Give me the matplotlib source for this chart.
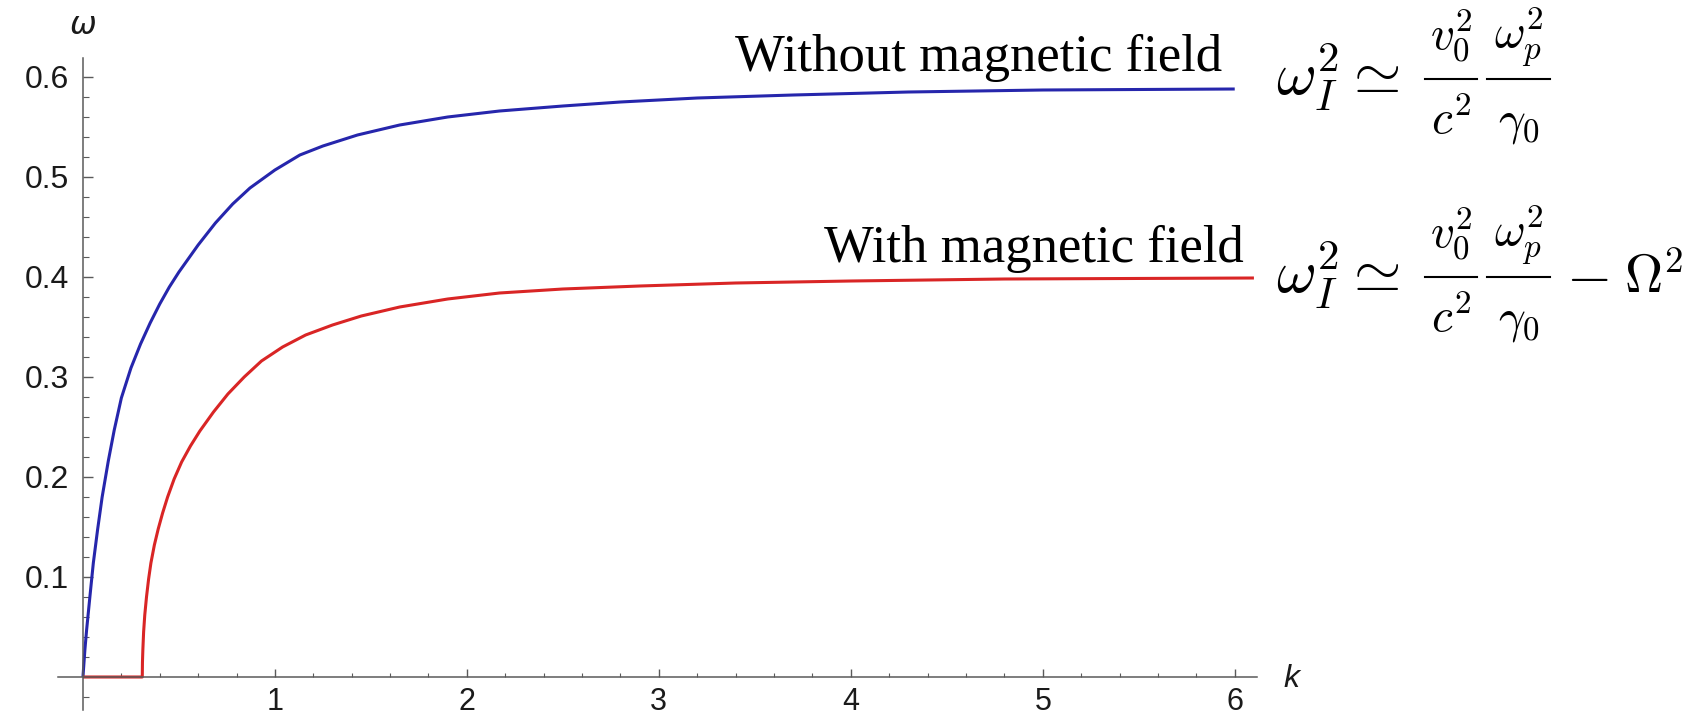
import numpy as np
import matplotlib
matplotlib.use("Agg")
import matplotlib.pyplot as plt
from matplotlib.lines import Line2D
from matplotlib.ticker import MultipleLocator, FixedLocator

plt.rcParams['mathtext.fontset'] = 'cm'

# values
k_without = [0, 0.01, 0.019, 0.036, 0.054, 0.076, 0.10, 0.132, 0.163, 0.20, 0.25, 0.30, 0.35,
             0.40, 0.45, 0.50, 0.60, 0.69, 0.78, 0.87, 1.0, 1.13, 1.25, 1.43, 1.65, 1.9,
             2.17, 2.5, 2.8, 3.2, 3.7, 4.3, 5.0, 6.0]
w_without = [0, 0.027, 0.047, 0.080, 0.114, 0.147, 0.180, 0.216, 0.247, 0.279, 0.309, 0.333, 0.354,
             0.373, 0.390, 0.405, 0.432, 0.454, 0.473, 0.489, 0.507, 0.522, 0.531, 0.542, 0.552, 0.560,
             0.566, 0.571, 0.575, 0.579, 0.582, 0.585, 0.587, 0.588]

k_with = [0, 0.309, 0.310, 0.312, 0.316, 0.322, 0.331, 0.342, 0.354, 0.372, 0.392, 0.415, 0.441,
          0.475, 0.514, 0.56, 0.609, 0.68, 0.755, 0.84, 0.93, 1.04, 1.16, 1.30, 1.45, 1.65,
          1.9, 2.17, 2.5, 2.9, 3.4, 4.0, 4.8, 6.1]
w_with = [0, 0, 0.015, 0.027, 0.045, 0.062, 0.080, 0.098, 0.114, 0.132, 0.148, 0.164, 0.180,
          0.198, 0.215, 0.231, 0.246, 0.265, 0.283, 0.300, 0.316, 0.330, 0.342, 0.352, 0.361, 0.370,
          0.378, 0.384, 0.388, 0.391, 0.394, 0.396, 0.398, 0.399]

x_ticks = [1, 2, 3, 4, 5, 6]
y_ticks = [0.1, 0.2, 0.3, 0.4, 0.5, 0.6]

W, H = 1700, 720
fig = plt.figure(figsize=(17, 7.2), dpi=100)
ax = fig.add_axes([58 / W, 10 / H, 1199 / W, 652 / H])
ax.set_xlim(-0.13, 6.116)
ax.set_ylim(-0.033, 0.619)

ax.plot(k_without, w_without, color='#2626ac', lw=2.2, solid_capstyle='butt')
ax.plot(k_with, w_with, color='#d92525', lw=2.2, solid_capstyle='butt')

for s in ['top', 'right']:
    ax.spines[s].set_visible(False)
for s in ['left', 'bottom']:
    ax.spines[s].set_position(('data', 0))
    ax.spines[s].set_color('#5a5a5a')
    ax.spines[s].set_linewidth(1.1)

ax.xaxis.set_major_locator(FixedLocator(x_ticks))
ax.yaxis.set_major_locator(FixedLocator(y_ticks))
ax.xaxis.set_minor_locator(MultipleLocator(0.2))
ax.yaxis.set_minor_locator(MultipleLocator(0.02))
ax.set_xticklabels([str(v) for v in x_ticks])
ax.set_yticklabels(['%.1f' % v for v in y_ticks])

ax.tick_params(axis='x', which='major', direction='in', length=6, width=1.0, color='#5a5a5a',
               pad=7, labelsize=22, labelcolor='#1a1a1a')
ax.tick_params(axis='x', which='minor', direction='in', length=3, width=0.8, color='#5a5a5a')
ax.tick_params(axis='y', which='major', direction='in', length=7, width=1.0, color='#5a5a5a',
               pad=10, labelsize=23, labelcolor='#1a1a1a')
ax.tick_params(axis='y', which='minor', direction='in', length=4, width=0.8, color='#5a5a5a')
for lab in ax.get_xticklabels() + ax.get_yticklabels():
    lab.set_fontfamily('Liberation Sans')

# axis names
fig.text(83 / W, 1 - 26 / H, 'ω', fontsize=23, style='italic', family='DejaVu Sans',
         color='#1a1a1a', ha='center', va='center')
fig.text(1291 / W, 1 - 679 / H, 'k', fontsize=23, style='italic', family='Liberation Sans',
         color='#1a1a1a', ha='center', va='center')

# curve labels
fig.text(735 / W, 1 - 71 / H, 'Without magnetic field', fontsize=38, family='Liberation Serif',
         ha='left', va='baseline')
fig.text(824 / W, 1 - 262 / H, 'With magnetic field', fontsize=38, family='Liberation Serif',
         ha='left', va='baseline')


# formulas: main symbols, two hand-set fractions and an optional "- Omega^2" tail
def formula(bar_y, tail=False):
    base_y = bar_y + 16
    fig.text(1276 / W, 1 - base_y / H, r'$\omega_I^2 \simeq$', fontsize=44,
             ha='left', va='baseline')
    for x0, x1, num, den in [(1425, 1477, r'$v_0^2$', r'$c^2$'),
                             (1487, 1550, r'$\omega_p^2$', r'$\gamma_0$')]:
        fig.add_artist(Line2D([x0 / W, x1 / W], [1 - bar_y / H] * 2, color='black',
                              lw=1.5, transform=fig.transFigure))
        xc = (x0 + x1) / 2 / W
        fig.text(xc, 1 - (bar_y - 30) / H, num, fontsize=34, ha='center', va='baseline')
        fig.text(xc, 1 - (bar_y + 55) / H, den, fontsize=34, ha='center', va='baseline')
    if tail:
        fig.text(1587 / W, 1 - base_y / H, r'$-$', fontsize=42, ha='center', va='baseline')
        fig.text(1683 / W, 1 - base_y / H, r'$\Omega^2$', fontsize=38, ha='right', va='baseline')


formula(79)
formula(277, tail=True)

fig.savefig('out.png', dpi=100, facecolor='white')
